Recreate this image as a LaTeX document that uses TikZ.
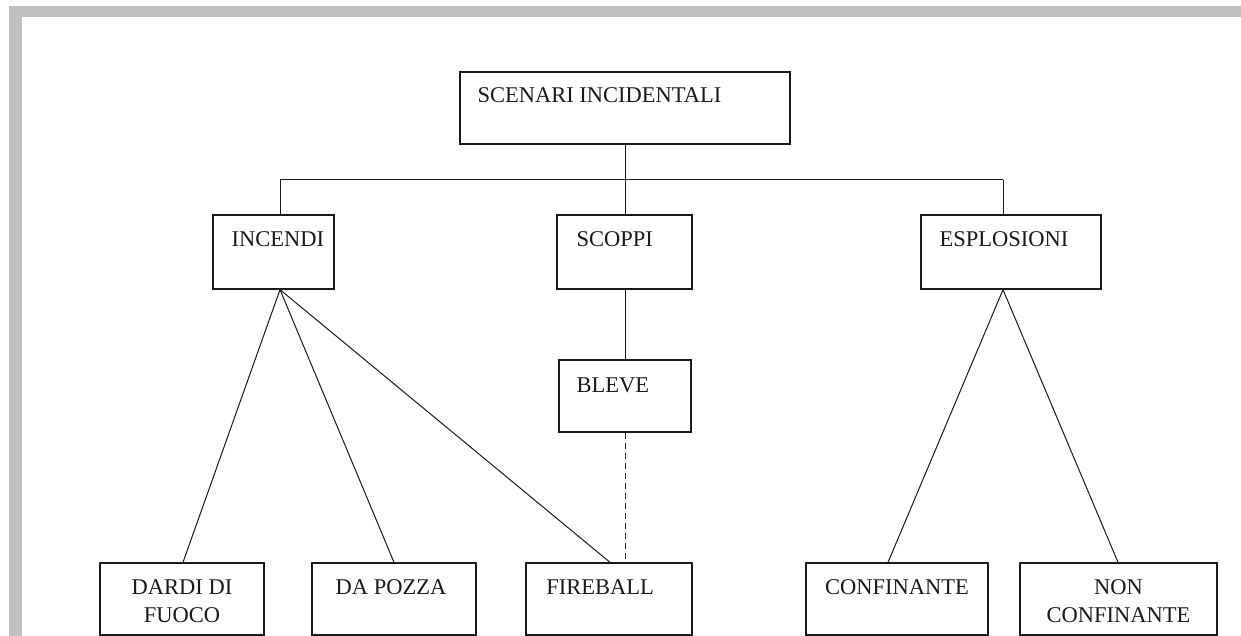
\documentclass[tikz,border=0pt]{standalone}
\usepackage{fontspec}
\setmainfont{Liberation Serif}
\usetikzlibrary{calc}
\definecolor{framegray}{HTML}{C0C0C0}
\definecolor{ink}{HTML}{1A1A1A}
\tikzset{
  box/.style={draw=ink, line width=1.3pt, rectangle, inner sep=0pt},
  conn/.style={draw=ink, line width=1pt},
  dashconn/.style={conn, dashed, dash pattern=on 6pt off 4pt},
  lbl/.style={font=\fontsize{22.5}{28}\selectfont, text=ink, inner sep=0pt, align=center},
}
\begin{document}
\begin{tikzpicture}[x=1pt,y=-1pt]
\useasboundingbox (0,0) rectangle (1241,636);
\fill[white] (0,0) rectangle (1241,636);
% frame
\fill[framegray] (9,6) rectangle (1241,17);
\fill[framegray] (9,6) rectangle (22,636);

% boxes
\node[box, minimum width=330pt, minimum height=72pt] (scen) at (625,108) {};
\node[box, minimum width=121pt, minimum height=74pt] (incendi) at (273.5,252) {};
\node[box, minimum width=135pt, minimum height=74pt] (scoppi) at (624.5,252) {};
\node[box, minimum width=180pt, minimum height=74pt] (esplo) at (1011,252) {};
\node[box, minimum width=132pt, minimum height=72pt] (bleve) at (625,396) {};
\node[box, minimum width=164pt, minimum height=72pt] (dardi) at (182,599) {};
\node[box, minimum width=164pt, minimum height=72pt] (pozza) at (394,599) {};
\node[box, minimum width=166pt, minimum height=72pt] (fire) at (609,599) {};
\node[box, minimum width=182pt, minimum height=72pt] (conf) at (897,599) {};
\node[box, minimum width=197pt, minimum height=72pt] (nonconf) at (1118.5,599) {};

% texts
\node[lbl, anchor=north west] (tscen) at ($(scen.north west)+(18,16)$) {SCENARI INCIDENTALI};
\node[lbl, anchor=north west] (tinc) at ($(incendi.north west)+(19,17)$) {INCENDI};
\node[lbl, anchor=north west] (tsco) at ($(scoppi.north west)+(20,17)$) {SCOPPI};
\node[lbl, anchor=north west] (tesp) at ($(esplo.north west)+(19,17)$) {ESPLOSIONI};
\node[lbl, anchor=north west] (tble) at ($(bleve.north west)+(18,18)$) {BLEVE};
\node[lbl, anchor=north] (tdar) at ($(dardi.north)+(0,17)$) {DARDI DI\\FUOCO};
\node[lbl, anchor=north] (tpoz) at ($(pozza.north)+(-3,17)$) {DA POZZA};
\node[lbl, anchor=north] (tfir) at ($(fire.north)+(-9,17)$) {FIREBALL};
\node[lbl, anchor=north] (tcon) at ($(conf.north)+(0,17)$) {CONFINANTE};
\node[lbl, anchor=north] (tnon) at ($(nonconf.north)+(0,17)$) {NON\\CONFINANTE};

% connectors
\coordinate (j) at (625,180);
\coordinate (jl) at (280,180);
\coordinate (jr) at (1003,180);
\draw[conn] (scen.south) -- (j);
\draw[conn] (jl) -- (jr);
\draw[conn] (jl) -- (jl |- incendi.north);
\draw[conn] (j) -- (j |- scoppi.north);
\draw[conn] (jr) -- (jr |- esplo.north);

\coordinate (ib) at (jl |- incendi.south);
\draw[conn] (ib) -- (183,0 |- dardi.north);
\draw[conn] (ib) -- (394,0 |- pozza.north);
\draw[conn] (ib) -- (610,0 |- fire.north);

\coordinate (eb) at (jr |- esplo.south);
\draw[conn] (eb) -- (888,0 |- conf.north);
\draw[conn] (eb) -- (1118,0 |- nonconf.north);

\draw[conn] (j |- scoppi.south) -- (j |- bleve.north);
\draw[dashconn] (j |- bleve.south) -- (j |- fire.north);
\end{tikzpicture}
\end{document}
